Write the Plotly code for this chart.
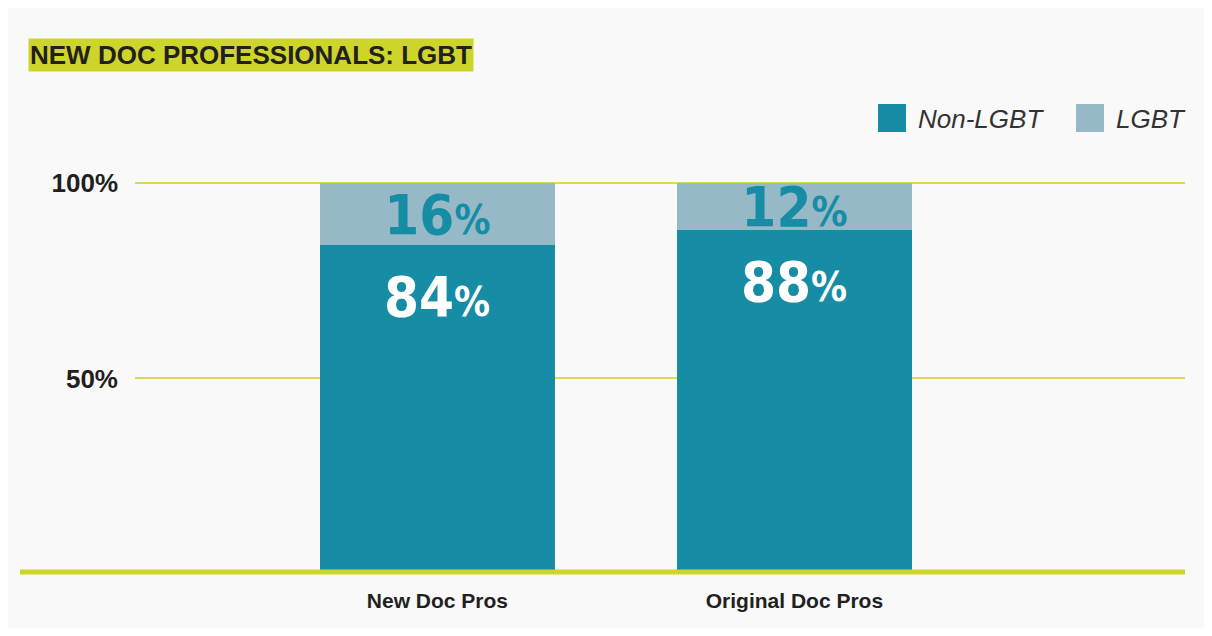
import plotly.graph_objects as go

categories = ["New Doc Pros", "Original Doc Pros"]
non_lgbt = [84, 88]
lgbt = [16, 12]
series_names = ["Non-LGBT", "LGBT"]
y_ticks = [50, 100]
y_tick_labels = ["50%", "100%"]
title_text = "NEW DOC PROFESSIONALS: LGBT"

TEAL = "#178ca5"
LIGHT = "#95b9c7"
LIME = "#cdd52a"
BG = "#f9f9f9"
DARK = "#231f20"
NUMFONT = "DejaVu Sans Condensed, DejaVu Sans, sans-serif"
SANS = "Liberation Sans, Arial, sans-serif"

def label(v, pct_size=40):
    return ("<span style='font-stretch:condensed'>%d<span style='font-size:%dpx'>%%</span></span>"
            % (v, pct_size))

fig = go.Figure()
fig.add_trace(go.Bar(
    x=categories, y=non_lgbt, name=series_names[0], marker_color=TEAL,
    marker_line_width=0, width=0.66, hoverinfo="skip",
))
fig.add_trace(go.Bar(
    x=categories, y=lgbt, name=series_names[1], marker_color=LIGHT,
    marker_line_width=0, width=0.66,
    text=[label(v) for v in lgbt],
    textposition="inside", insidetextanchor="middle", constraintext="none",
    textfont=dict(family=NUMFONT, size=56, color=TEAL, weight="bold"),
    hoverinfo="skip",
))

W, H = 1196, 620
OFF = 8  # page offset of the figure in the screenshot
ml, mr, mt, mb = 127, 19, 171, 54
pw = W - ml - mr
ph = H - mt - mb

def px2x(px):
    return (px - OFF - ml) / pw

def py2y(py):
    return 1 - (py - OFF - mt) / ph

shapes = [
    dict(type="line", xref="paper", yref="paper", x0=px2x(20), x1=px2x(1185),
         y0=py2y(572), y1=py2y(572),
         line=dict(color=LIME, width=5), layer="above"),
    dict(type="rect", xref="paper", yref="paper", x0=px2x(878), x1=px2x(906),
         y0=py2y(132), y1=py2y(104), fillcolor=TEAL, line_width=0),
    dict(type="rect", xref="paper", yref="paper", x0=px2x(1076), x1=px2x(1104),
         y0=py2y(132), y1=py2y(104), fillcolor=LIGHT, line_width=0),
]

annotations = [
    dict(text="<b>" + title_text + "</b>", xref="paper", yref="paper",
         x=px2x(28), y=py2y(55), xanchor="left", yanchor="middle", showarrow=False,
         bgcolor=LIME, borderpad=1,
         font=dict(family=SANS, size=26, color=DARK)),
    dict(text="<i>" + series_names[0] + "</i>", xref="paper", yref="paper",
         x=px2x(916), y=py2y(119), xanchor="left", yanchor="middle", showarrow=False,
         font=dict(family=SANS, size=26, color="#333333")),
    dict(text="<i>" + series_names[1] + "</i>", xref="paper", yref="paper",
         x=px2x(1114), y=py2y(119), xanchor="left", yanchor="middle", showarrow=False,
         font=dict(family=SANS, size=26, color="#333333")),
]
for c, v in zip(categories, non_lgbt):
    annotations.append(dict(
        text=label(v), x=c, y=v, xref="x", yref="y", yanchor="top", yshift=-17,
        showarrow=False,
        font=dict(family=NUMFONT, size=56, color="white", weight="bold")))

fig.update_layout(
    barmode="stack",
    width=W, height=H,
    margin=dict(l=ml, r=mr, t=mt, b=mb, autoexpand=False),
    paper_bgcolor=BG, plot_bgcolor=BG,
    showlegend=False,
    shapes=shapes, annotations=annotations,
    xaxis=dict(
        range=[-0.847, 2.094], showgrid=False, zeroline=False, showline=False,
        ticks="", tickfont=dict(family=SANS, size=21, color=DARK, weight="bold"),
        ticklabelstandoff=12,
    ),
    yaxis=dict(
        range=[0, 101], tickvals=y_ticks, ticktext=y_tick_labels,
        showgrid=True, gridcolor="#d6da55", gridwidth=1.5, zeroline=False,
        showline=False, ticks="",
        tickfont=dict(family=SANS, size=26, color=DARK, weight="bold"),
        ticklabelstandoff=16,
    ),
)

fig.write_html("out.html")
